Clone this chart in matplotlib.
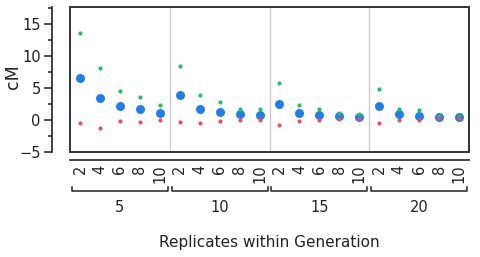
import matplotlib
matplotlib.use("Agg")
import matplotlib.pyplot as plt
from matplotlib.patches import Rectangle
from matplotlib.lines import Line2D
from matplotlib.transforms import blended_transform_factory
import numpy as np

generations = ["5", "10", "15", "20"]
replicates = ["2", "4", "6", "8", "10"]

green_vals = [13.7, 8.2, 4.6, 3.6, 2.4,
              8.4, 4.0, 2.8, 1.8, 1.7,
              5.8, 2.4, 1.7, 1.1, 0.9,
              4.9, 1.8, 1.5, 0.7, 0.7]
blue_vals = [6.6, 3.5, 2.2, 1.7, 1.1,
             4.0, 1.8, 1.3, 0.9, 0.8,
             2.5, 1.1, 0.8, 0.6, 0.5,
             2.2, 0.9, 0.7, 0.5, 0.5]
red_vals = [-0.4, -1.2, -0.2, -0.3, -0.05,
            -0.3, -0.4, -0.15, -0.05, -0.05,
            -0.7, -0.1, -0.05, 0.1, 0.2,
            -0.4, 0.0, -0.05, 0.25, 0.25]

GREEN = "#22c35e"
BLUE = "#1f7ee8"
RED = "#ec4d6b"

fig = plt.figure(figsize=(4.8, 2.57), dpi=100)
ax = fig.add_axes([70/480, 1-152/257, (469-70)/480, (152-7)/257])

n = len(generations) * len(replicates)
x = np.arange(n)
ax.scatter(x, blue_vals, s=42, color=BLUE, zorder=3, linewidths=0)
ax.scatter(x, green_vals, s=9, color=GREEN, zorder=4, linewidths=0)
ax.scatter(x, red_vals, s=9, color=RED, zorder=4, linewidths=0)

ax.set_xlim(-0.5, n - 0.5)
ax.set_ylim(-5, 17.7)

for b in [4.5, 9.5, 14.5]:
    ax.axvline(b, color="#cccccc", lw=1.0, zorder=1)

for s in ax.spines.values():
    s.set_visible(False)
ax.add_patch(Rectangle((0, 0), 1, 1, transform=ax.transAxes, fill=False,
                       edgecolor="#333333", lw=1.4, clip_on=False, zorder=5))

# y axis
ax.spines["left"].set_visible(True)
ax.spines["left"].set_position(("outward", 13))
ax.spines["left"].set_color("#222222")
ax.spines["left"].set_linewidth(1.2)
ax.set_yticks([-5, 0, 5, 10, 15])
ax.set_yticks([-2.5, 2.5, 7.5, 12.5, 17.5], minor=True)
ax.tick_params(axis="y", which="major", length=6, width=1.1, labelsize=10.5,
               colors="#222222", pad=2)
ax.tick_params(axis="y", which="minor", length=3, width=1.1, colors="#222222")
fig.text(13/480, 1 - 77/257, "cM", rotation=90, ha="center", va="center",
         fontsize=12.5, color="#222222")

# x axis
ax.spines["bottom"].set_visible(True)
ax.spines["bottom"].set_position(("outward", 6))
ax.spines["bottom"].set_color("#222222")
ax.spines["bottom"].set_linewidth(1.2)
ax.set_xticks(x)
ax.set_xticklabels(replicates * len(generations), rotation=90)
ax.tick_params(axis="x", length=0, labelsize=10.5, colors="#222222", pad=3)

# group brackets
trans = blended_transform_factory(ax.transData, fig.transFigure)
yb = 1 - 191/257
yh = 1 - 187/257
for i, g in enumerate(generations):
    x0 = i * 5 - 0.4
    x1 = i * 5 + 4.4
    fig.add_artist(Line2D([x0, x0, x1, x1], [yh, yb, yb, yh], transform=trans,
                          color="#222222", lw=1.1))
    fig.text(i * 5 + 2, 1 - 207/257, g, transform=trans, ha="center",
             va="center", fontsize=10.5, color="#222222")

fig.text((70 + 469) / 2 / 480, 1 - 243/257, "Replicates within Generation",
         ha="center", va="center", fontsize=11, color="#222222")

fig.savefig("out.png", dpi=100)
